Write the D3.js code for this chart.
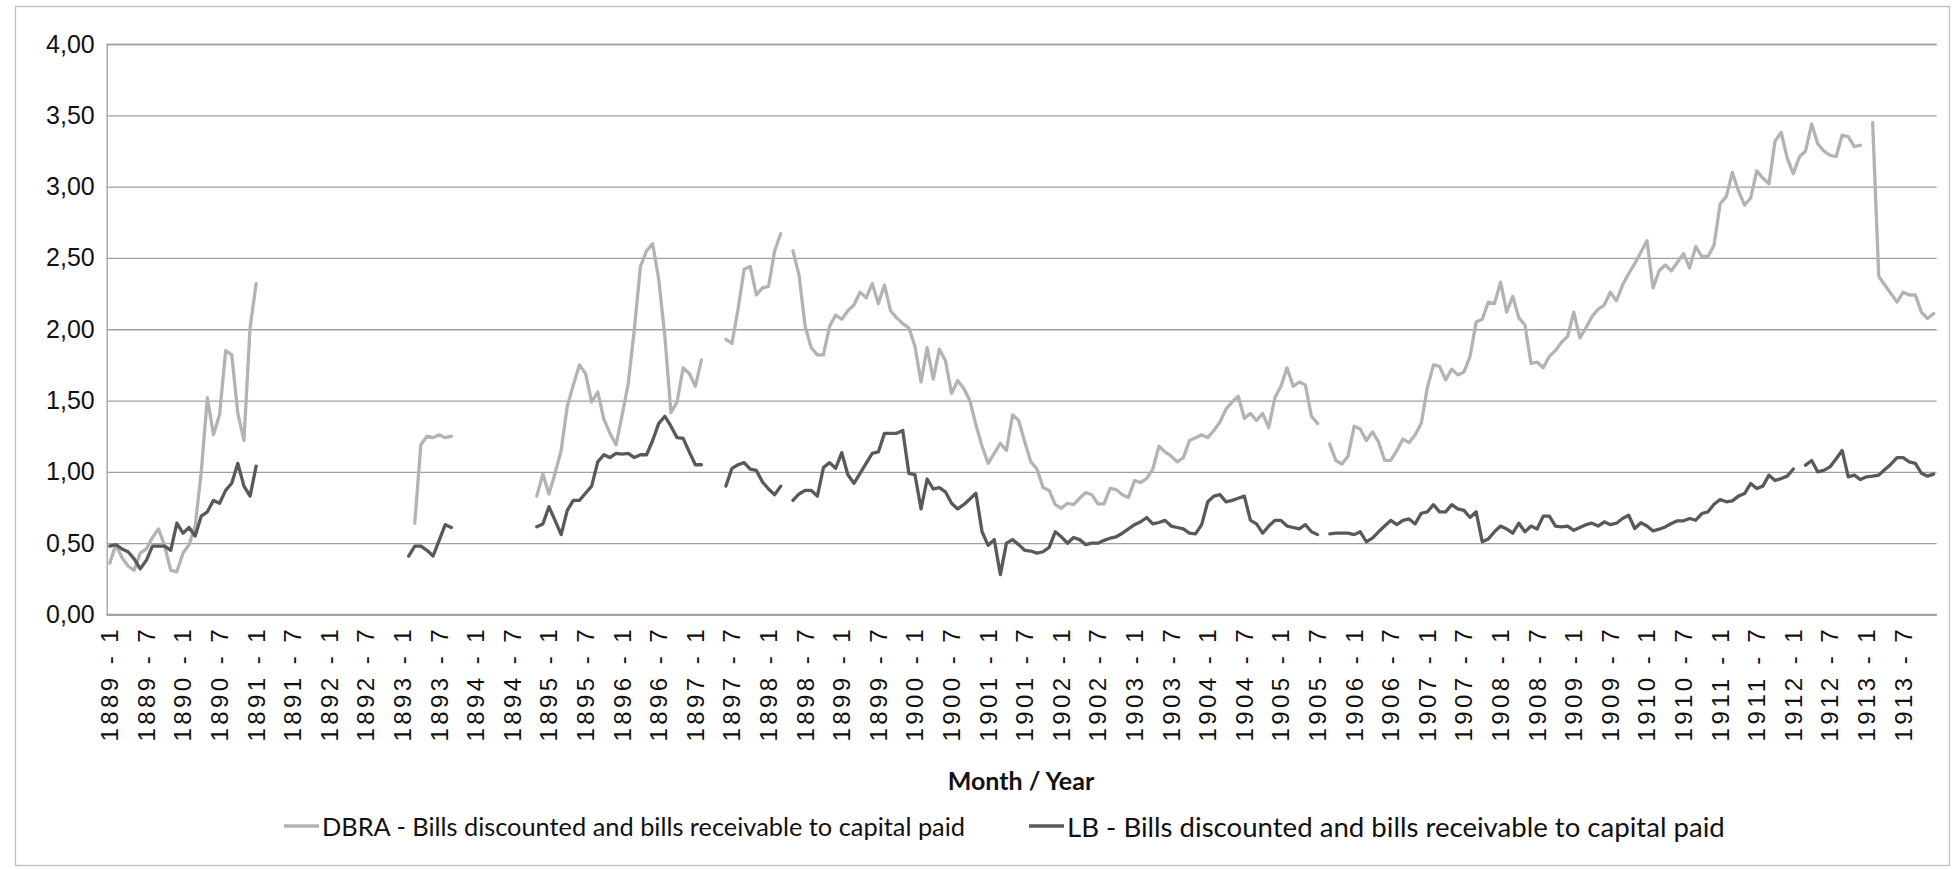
<!DOCTYPE html>
<html>
<head>
<meta charset="utf-8">
<script src="https://cdn.jsdelivr.net/npm/d3@7"></script>
<style>
  html, body { margin: 0; padding: 0; background: #fff; }
  svg { display: block; font-family: Lato, "Open Sans", sans-serif; }
</style>
</head>
<body>
<svg id="chart" width="1953" height="869"></svg>
<script>
// Monthly categories, January 1889 to December 1913
const years = d3.range(1889, 1914);
const categories = years.flatMap(y => d3.range(1, 13).map(m => `${y} - ${m}`));
const tickLabels = categories.filter((_, i) => i % 6 === 0);
const yTicks = [0, 0.5, 1, 1.5, 2, 2.5, 3, 3.5, 4];

const seriesNames = [
  "DBRA - Bills discounted and bills receivable to capital paid",
  "LB - Bills discounted and bills receivable to capital paid"
];

// DBRA ratio, one row per year (null = no observation)
const dbra = [
  0.36, 0.49, 0.40, 0.34, 0.31, 0.43, 0.46, 0.54, 0.60, 0.48, 0.31, 0.30,
  0.43, 0.49, 0.62, 1.00, 1.52, 1.26, 1.40, 1.85, 1.82, 1.41, 1.22, 2.01,
  2.32, null, null, null, null, null, null, null, null, null, null, null,
  null, null, null, null, null, null, null, null, null, null, null, null,
  null, null, 0.64, 1.19, 1.25, 1.24, 1.26, 1.24, 1.25, null, null, null,
  null, null, null, null, null, null, null, null, null, null, 0.83, 0.985,
  0.845, 0.99, 1.15, 1.46, 1.61, 1.75, 1.69, 1.49, 1.56, 1.37, 1.27, 1.19,
  1.40, 1.62, 2.00, 2.44, 2.55, 2.60, 2.35, 1.95, 1.415, 1.49, 1.73, 1.69,
  1.60, 1.785, null, null, null, 1.93, 1.90, 2.14, 2.42, 2.44, 2.24, 2.29,
  2.30, 2.55, 2.67, null, 2.55, 2.38, 2.02, 1.87, 1.82, 1.82, 2.02, 2.10,
  2.07, 2.13, 2.17, 2.26, 2.22, 2.32, 2.18, 2.31, 2.13, 2.08, 2.04, 2.01,
  1.88, 1.63, 1.87, 1.65, 1.86, 1.78, 1.55, 1.64, 1.585, 1.50, 1.33, 1.18,
  1.06, 1.13, 1.20, 1.15, 1.40, 1.36, 1.21, 1.07, 1.02, 0.89, 0.87, 0.77,
  0.745, 0.78, 0.77, 0.815, 0.855, 0.84, 0.775, 0.775, 0.885, 0.875, 0.84, 0.82,
  0.94, 0.925, 0.955, 1.02, 1.18, 1.14, 1.11, 1.07, 1.10, 1.22, 1.24, 1.26,
  1.24, 1.29, 1.35, 1.44, 1.49, 1.53, 1.375, 1.41, 1.36, 1.41, 1.31, 1.52,
  1.60, 1.73, 1.60, 1.63, 1.61, 1.39, 1.34, null, 1.195, 1.08, 1.055, 1.11,
  1.32, 1.30, 1.22, 1.28, 1.21, 1.08, 1.08, 1.15, 1.23, 1.205, 1.26, 1.34,
  1.59, 1.75, 1.74, 1.645, 1.72, 1.68, 1.70, 1.81, 2.05, 2.07, 2.19, 2.18,
  2.33, 2.12, 2.23, 2.08, 2.03, 1.76, 1.77, 1.73, 1.81, 1.85, 1.91, 1.95,
  2.12, 1.94, 2.01, 2.09, 2.14, 2.17, 2.26, 2.20, 2.31, 2.39, 2.46, 2.54,
  2.62, 2.29, 2.41, 2.45, 2.41, 2.47, 2.53, 2.43, 2.58, 2.51, 2.51, 2.59,
  2.88, 2.93, 3.10, 2.97, 2.87, 2.92, 3.11, 3.06, 3.02, 3.32, 3.38, 3.20,
  3.09, 3.21, 3.25, 3.44, 3.30, 3.25, 3.22, 3.21, 3.36, 3.35, 3.28, 3.29,
  null, 3.45, 2.37, 2.31, 2.25, 2.19, 2.26, 2.24, 2.24, 2.12, 2.075, 2.11
];

// LB ratio, one row per year (null = no observation)
const lb = [
  0.48, 0.49, 0.46, 0.44, 0.39, 0.32, 0.38, 0.48, 0.48, 0.48, 0.45, 0.64,
  0.57, 0.61, 0.55, 0.69, 0.72, 0.80, 0.78, 0.87, 0.92, 1.06, 0.90, 0.83,
  1.04, null, null, null, null, null, null, null, null, null, null, null,
  null, null, null, null, null, null, null, null, null, null, null, null,
  null, 0.41, 0.48, 0.48, 0.45, 0.41, 0.52, 0.63, 0.61, null, null, null,
  null, null, null, null, null, null, null, null, null, null, 0.615, 0.634,
  0.756, 0.66, 0.56, 0.73, 0.80, 0.80, 0.85, 0.90, 1.07, 1.12, 1.10, 1.13,
  1.125, 1.13, 1.10, 1.12, 1.12, 1.22, 1.34, 1.39, 1.32, 1.24, 1.235, 1.14,
  1.05, 1.05, null, null, null, 0.90, 1.025, 1.05, 1.065, 1.02, 1.01, 0.93,
  0.88, 0.84, 0.90, null, 0.80, 0.845, 0.87, 0.87, 0.83, 1.03, 1.065, 1.025,
  1.135, 0.98, 0.92, 0.99, 1.06, 1.13, 1.14, 1.27, 1.27, 1.27, 1.29, 0.99,
  0.98, 0.74, 0.95, 0.88, 0.89, 0.86, 0.78, 0.74, 0.77, 0.81, 0.85, 0.58,
  0.485, 0.525, 0.28, 0.50, 0.525, 0.49, 0.45, 0.445, 0.43, 0.44, 0.47, 0.58,
  0.545, 0.50, 0.54, 0.525, 0.49, 0.50, 0.50, 0.52, 0.535, 0.545, 0.57, 0.60,
  0.63, 0.65, 0.68, 0.635, 0.645, 0.66, 0.62, 0.61, 0.60, 0.57, 0.565, 0.63,
  0.79, 0.83, 0.84, 0.79, 0.80, 0.815, 0.83, 0.66, 0.635, 0.57, 0.62, 0.66,
  0.66, 0.62, 0.61, 0.60, 0.63, 0.58, 0.56, null, 0.565, 0.57, 0.57, 0.57,
  0.56, 0.58, 0.51, 0.535, 0.58, 0.62, 0.66, 0.63, 0.66, 0.67, 0.635, 0.71,
  0.72, 0.77, 0.72, 0.72, 0.77, 0.74, 0.73, 0.68, 0.72, 0.51, 0.53, 0.58,
  0.62, 0.60, 0.57, 0.64, 0.58, 0.62, 0.60, 0.69, 0.69, 0.62, 0.615, 0.62,
  0.59, 0.61, 0.63, 0.64, 0.62, 0.65, 0.63, 0.64, 0.673, 0.696, 0.603, 0.643,
  0.62, 0.586, 0.598, 0.614, 0.638, 0.657, 0.657, 0.673, 0.661, 0.708, 0.72, 0.773,
  0.806, 0.79, 0.797, 0.83, 0.848, 0.918, 0.883, 0.90, 0.977, 0.94, 0.953, 0.97,
  1.02, null, 1.047, 1.08, 1.00, 1.01, 1.035, 1.09, 1.15, 0.965, 0.977, 0.946,
  0.965, 0.97, 0.977, 1.016, 1.054, 1.10, 1.10, 1.07, 1.06, 0.99, 0.97, 0.984
];

const colors = ["#b3b3b3", "#595959"];

// ---- layout ----
const plot = { left: 106.7, right: 1936.7, top: 44, bottom: 614.5 };
const gridColor = "#a0a0a0";

const svg = d3.select("#chart");

svg.append("rect")
  .attr("x", 15.5).attr("y", 6.5)
  .attr("width", 1934).attr("height", 859)
  .attr("fill", "#fff").attr("stroke", "#bfbfbf").attr("stroke-width", 1.3);

const x = d3.scaleBand().domain(categories).range([plot.left, plot.right]);
const cx = c => x(c) + x.bandwidth() / 2;
const y = d3.scaleLinear().domain([0, 4]).range([plot.bottom, plot.top]);

const locale = d3.formatLocale({ decimal: ",", thousands: ".", grouping: [3], currency: ["", ""] });
const fmt = locale.format(".2f");

// horizontal gridlines + y labels
const yAxis = d3.axisLeft(y)
  .tickValues(yTicks)
  .tickSize(-(plot.right - plot.left))
  .tickPadding(12)
  .tickFormat(fmt);

const gy = svg.append("g")
  .attr("transform", `translate(${plot.left},0)`)
  .call(yAxis);
gy.select(".domain").attr("stroke", gridColor).attr("stroke-width", 1.3);
gy.selectAll(".tick line").attr("stroke", gridColor).attr("stroke-width", 1.3);
gy.selectAll(".tick text")
  .attr("fill", "#111")
  .style("font-size", "25px");

// x axis labels (every sixth month), rotated
const xAxis = d3.axisBottom(x)
  .tickValues(tickLabels)
  .tickSize(0)
  .tickPadding(0);
const gx = svg.append("g")
  .attr("transform", `translate(0,${plot.bottom})`)
  .call(xAxis);
gx.select(".domain").remove();
gx.selectAll(".tick text")
  .attr("fill", "#111")
  .style("font-size", "24px")
  .attr("text-anchor", "end")
  .attr("dy", null)
  .attr("y", 0)
  .attr("transform", "translate(0,15) rotate(-90)")
  .attr("dominant-baseline", "central")
  .attr("textLength", 112)
  .attr("lengthAdjust", "spacing");

// baseline at zero
svg.append("line")
  .attr("x1", plot.left).attr("x2", plot.right)
  .attr("y1", y(0)).attr("y2", y(0))
  .attr("stroke", gridColor).attr("stroke-width", 1.3);

// series lines
const line = d3.line()
  .defined(d => d.v != null)
  .x(d => cx(d.c))
  .y(d => y(d.v));

[dbra, lb].forEach((vals, k) => {
  const pts = categories.map((c, i) => ({ c, v: vals[i] }));
  svg.append("path")
    .datum(pts)
    .attr("fill", "none")
    .attr("stroke", colors[k])
    .attr("stroke-width", 3.3)
    .attr("stroke-linejoin", "round")
    .attr("stroke-linecap", "round")
    .attr("d", line);
});

// axis title
svg.append("text")
  .attr("x", 1021).attr("y", 790)
  .attr("text-anchor", "middle")
  .attr("fill", "#111")
  .style("font-size", "25px")
  .style("font-weight", "bold")
  .text("Month / Year");

// legend
const legendItems = [
  { x0: 284, x1: 319, tx: 322, width: 643 },
  { x0: 1029, x1: 1064, tx: 1067, width: 658 }
];
legendItems.forEach((it, k) => {
  svg.append("line")
    .attr("x1", it.x0).attr("x2", it.x1)
    .attr("y1", 826).attr("y2", 826)
    .attr("stroke", colors[k]).attr("stroke-width", 3.3);
  const t = svg.append("text")
    .attr("x", it.tx).attr("y", 826)
    .attr("dominant-baseline", "central")
    .attr("fill", "#111")
    .style("font-size", "24px")
    .text(seriesNames[k]);
  const len = t.node().getComputedTextLength();
  t.style("font-size", (24 * it.width / len).toFixed(2) + "px");
});
</script>
</body>
</html>
